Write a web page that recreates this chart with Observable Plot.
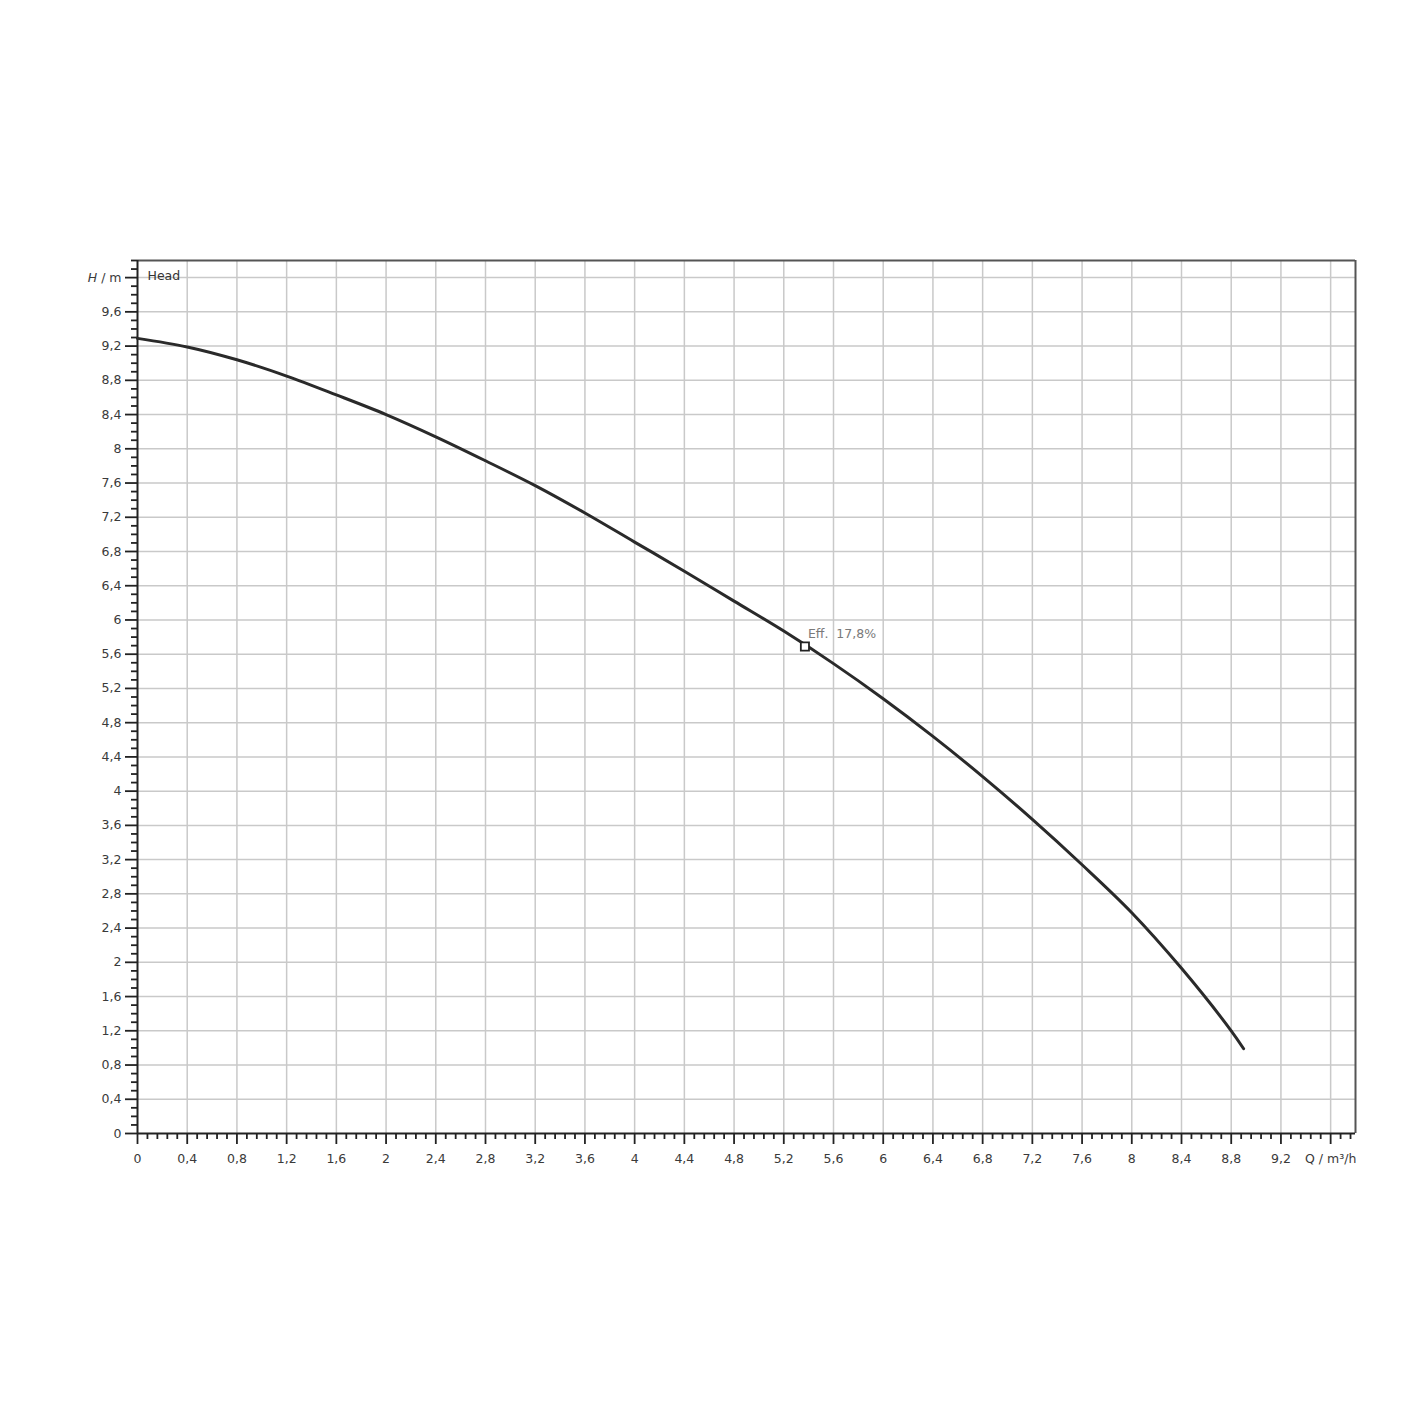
<!DOCTYPE html>
<html>
<head>
<meta charset="utf-8">
<script src="https://cdn.jsdelivr.net/npm/d3@7"></script>
<script src="https://cdn.jsdelivr.net/npm/@observablehq/plot@0.6"></script>
<style>
  html, body { margin: 0; padding: 0; background: #fff; }
  #chart { width: 1425px; height: 1425px; }
</style>
</head>
<body>
<div id="chart"></div>
<script>
// Flow Q (m³/h) and head H (m)
const flowQ = [0, 0.4, 0.8, 1.2, 1.6, 2.0, 2.4, 2.8, 3.2, 3.6, 4.0, 4.4, 4.8, 5.2, 5.6, 6.0, 6.4, 6.8, 7.2, 7.6, 8.0, 8.4, 8.8, 8.9];
const headH = [9.29, 9.19, 9.04, 8.85, 8.63, 8.40, 8.14, 7.86, 7.57, 7.25, 6.91, 6.57, 6.22, 5.87, 5.49, 5.08, 4.64, 4.17, 3.67, 3.14, 2.58, 1.93, 1.20, 0.99];

// Efficiency point
const effQ = [5.37];
const effH = [5.69];
const effLabel = ["Eff.\u00a0\u00a017,8%"];

// Tick values
const xTicks = [0, 0.4, 0.8, 1.2, 1.6, 2, 2.4, 2.8, 3.2, 3.6, 4, 4.4, 4.8, 5.2, 5.6, 6, 6.4, 6.8, 7.2, 7.6, 8, 8.4, 8.8, 9.2, 9.6];
const yTicks = [0, 0.4, 0.8, 1.2, 1.6, 2, 2.4, 2.8, 3.2, 3.6, 4, 4.4, 4.8, 5.2, 5.6, 6, 6.4, 6.8, 7.2, 7.6, 8, 8.4, 8.8, 9.2, 9.6, 10];
const xAxisLabel = "Q / m³/h";
const yAxisLabel = "H / m";
const curveName = "Head";

const xMinor = d3.range(0, 123).filter(i => i % 5 !== 0).map(i => i * 0.08).filter(v => v < 9.79);
const yMinor = d3.range(0, 103).filter(i => i % 4 !== 0).map(i => i * 0.1);

const fmt = d => String(+d.toFixed(2)).replace(".", ",");
const curveData = flowQ.map((q, i) => ({q, h: headH[i]}));
const effData = effQ.map((q, i) => ({q, h: effH[i], label: effLabel[i]}));

const chart = Plot.plot({
  width: 1425,
  height: 1425,
  marginLeft: 137,
  marginRight: 70,
  marginTop: 260,
  marginBottom: 292,
  style: {fontFamily: "DejaVu Sans, sans-serif", fontSize: "12.5px", color: "#3a3a3a", background: "#fff"},
  x: {domain: [0, 9.8], label: null},
  y: {domain: [0, 10.2], label: null},
  marks: [
    Plot.gridX(xTicks.filter(d => d > 0), {stroke: "#c9c9c9", strokeOpacity: 1, strokeWidth: 1.5}),
    Plot.gridY(yTicks.filter(d => d > 0), {stroke: "#c9c9c9", strokeOpacity: 1, strokeWidth: 1.5}),
    Plot.ruleY([10.2], {stroke: "#555", strokeWidth: 2}),
    Plot.ruleX([9.8], {stroke: "#555", strokeWidth: 2}),
    Plot.axisX(xMinor, {tickSize: 6, tickFormat: () => "", stroke: "#222", strokeWidth: 1.8}),
    Plot.axisX(xTicks, {tickSize: 11, tickPadding: 10, stroke: "#222", strokeWidth: 1.8,
      tickFormat: d => d === 9.6 ? xAxisLabel : fmt(d)}),
    Plot.axisY(yMinor, {tickSize: 6, tickFormat: () => "", stroke: "#222", strokeWidth: 1.8}),
    Plot.axisY(yTicks, {tickSize: 12, tickPadding: 4, stroke: "#222", strokeWidth: 1.8,
      tickFormat: d => d === 10 ? yAxisLabel : fmt(d)}),
    Plot.ruleX([0], {stroke: "#222", strokeWidth: 2}),
    Plot.ruleY([0], {stroke: "#222", strokeWidth: 2}),
    Plot.line(curveData, {x: "q", y: "h", stroke: "#2a2a2a", strokeWidth: 3, curve: "catmull-rom"}),
    Plot.dot(effData, {x: "q", y: "h", symbol: "square", r: 4.6, fill: "#fff", stroke: "#222", strokeWidth: 1.8}),
    Plot.text(effData, {x: "q", y: "h", text: "label", textAnchor: "start", dx: 3, dy: -13, fill: "#7a7a7a", fontSize: 12.5}),
    Plot.text([curveName], {frameAnchor: "top-left", dx: 10, dy: 11, fill: "#333", fontSize: 12.5, lineAnchor: "top"})
  ]
});

// italic H in the y-axis label
chart.querySelectorAll("text").forEach(t => {
  if (t.textContent === yAxisLabel) {
    t.textContent = "";
    const a = document.createElementNS("http://www.w3.org/2000/svg", "tspan");
    a.setAttribute("font-style", "italic");
    a.textContent = "H";
    const b = document.createElementNS("http://www.w3.org/2000/svg", "tspan");
    b.textContent = " / m";
    t.appendChild(a); t.appendChild(b);
  }
});

document.getElementById("chart").appendChild(chart);
</script>
</body>
</html>
